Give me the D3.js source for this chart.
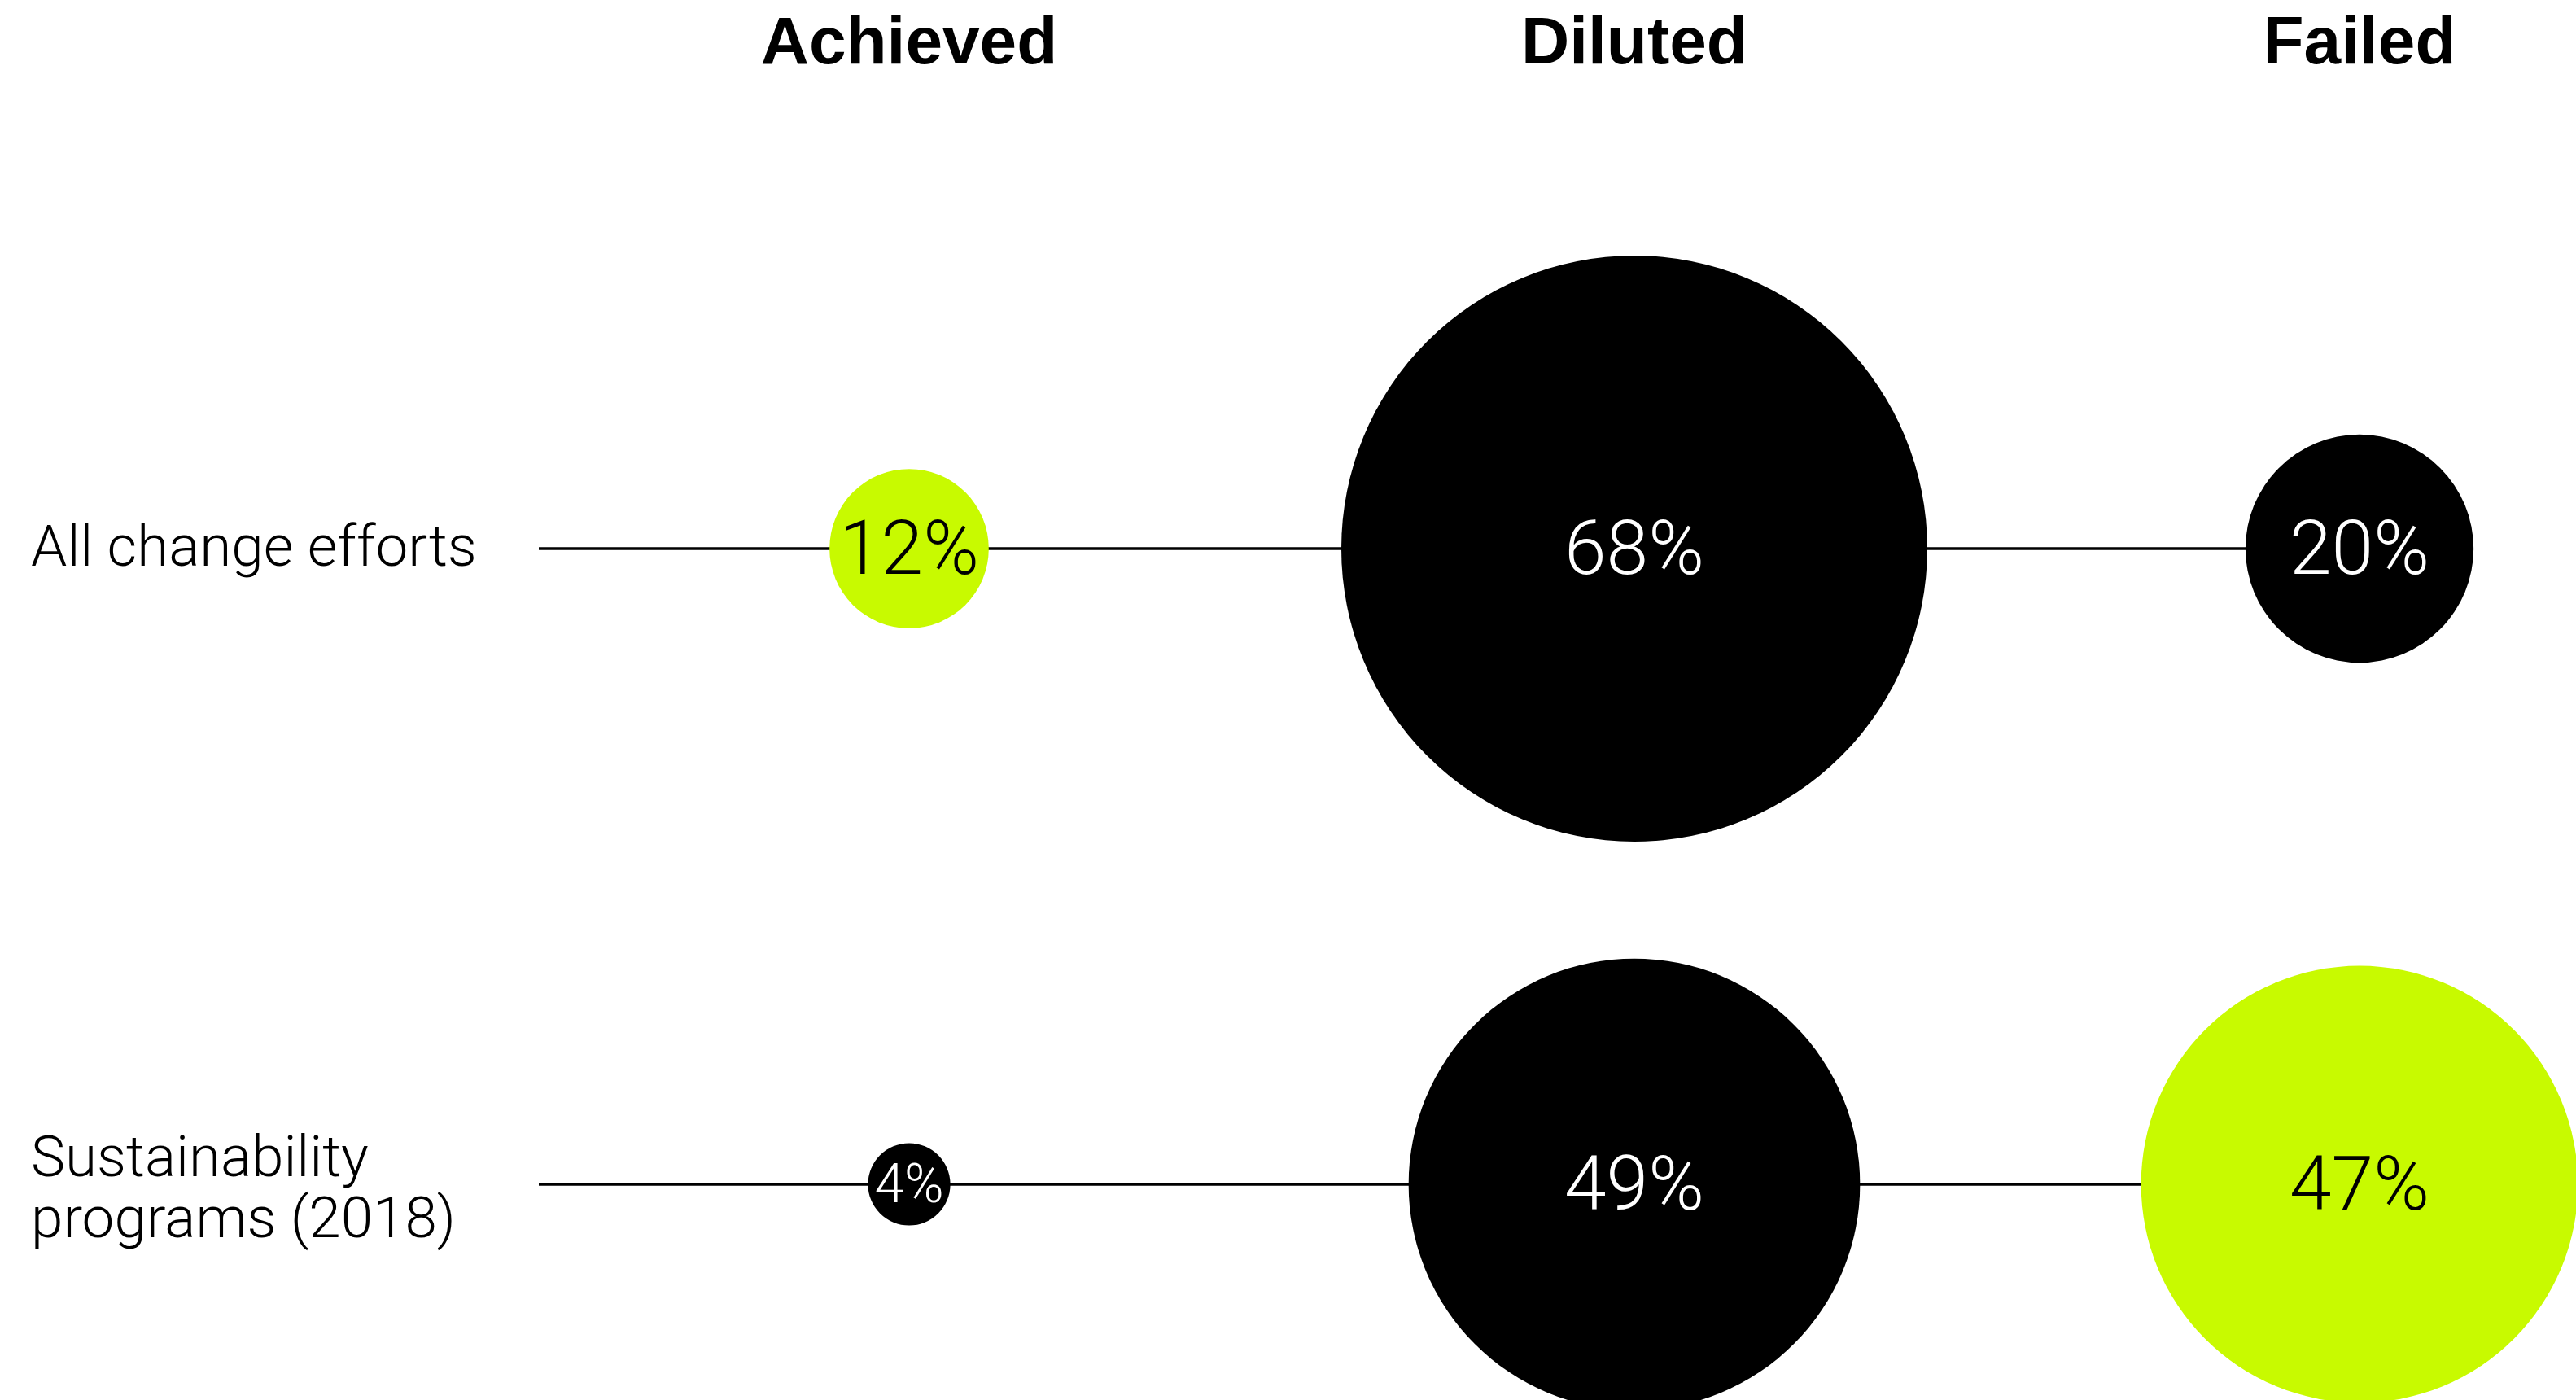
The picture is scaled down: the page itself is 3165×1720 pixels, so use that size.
<!DOCTYPE html>
<html>
<head>
<meta charset="utf-8">
<script src="https://cdn.jsdelivr.net/npm/d3@7"></script>
<style>
    body { margin: 0; background: #fff; }
    svg { display: block; }
    .header { font-family: "Liberation Sans", Arial, sans-serif; font-weight: bold; font-size: 82px; }
    .rowlabel { font-family: Roboto, "Liberation Sans", sans-serif; font-weight: 300; font-size: 71px; }
    .pct { font-family: Roboto, "Liberation Sans", sans-serif; font-weight: 300; }
</style>
</head>
<body>
<svg width="3165" height="1720"></svg>
<script>
"use strict";

// outcome categories (columns)
var outcomes = ["Achieved", "Diluted", "Failed"];

// rows, label split into lines
var groups = ["All change efforts", "Sustainability programs (2018)"];
var groupLines = [["All change efforts"], ["Sustainability", "programs (2018)"]];

// share of efforts, %
var allChange = [12, 68, 20];
var sustainability = [4, 49, 47];

// highlighted outcome per row
var highlighted = ["Achieved", "Failed"];

window.onload = renderMyChart;

function renderMyChart() {
    var svg = d3.select("svg");

    var x = d3.scalePoint().domain(outcomes).range([1117, 2899]),
        y = d3.scalePoint().domain(groups).range([674, 1455]),
        r = d3.scalePow().exponent(0.85).domain([0, 68]).range([20, 360]);

    var lime = "#c8fa00";
    var values = [allChange, sustainability];

    var data = [];
    groups.forEach(function (g, i) {
        outcomes.forEach(function (o, j) {
            data.push({ group: g, outcome: o, value: values[i][j], hi: highlighted[i] === o });
        });
    });

    // column headers
    svg.selectAll(".header")
        .data(outcomes)
        .enter().append("text")
        .attr("class", "header")
        .attr("x", function (d) { return x(d); })
        .attr("y", 78)
        .attr("text-anchor", "middle")
        .text(function (d) { return d; });

    // row labels
    var labels = svg.selectAll(".rowlabel")
        .data(groups)
        .enter().append("text")
        .attr("class", "rowlabel")
        .attr("x", 38);

    labels.each(function (d, i) {
        var lines = groupLines[i],
            n = lines.length,
            base = y(d) + 21 - (n - 1) * 31;
        d3.select(this).selectAll("tspan")
            .data(lines)
            .enter().append("tspan")
            .attr("x", 38)
            .attr("y", function (l, k) { return base + k * 75; })
            .text(function (l) { return l; });
    });

    // connecting lines
    svg.selectAll(".rowline")
        .data(groups)
        .enter().append("line")
        .attr("class", "rowline")
        .attr("x1", 662)
        .attr("x2", x(outcomes[outcomes.length - 1]))
        .attr("y1", function (d) { return y(d); })
        .attr("y2", function (d) { return y(d); })
        .attr("stroke", "#000")
        .attr("stroke-width", 3.5);

    // bubbles
    var cell = svg.selectAll(".cell")
        .data(data)
        .enter().append("g")
        .attr("class", "cell")
        .attr("transform", function (d) { return "translate(" + x(d.outcome) + "," + y(d.group) + ")"; });

    cell.append("circle")
        .attr("r", function (d) { return r(d.value); })
        .attr("fill", function (d) { return d.hi ? lime : "#000"; });

    cell.append("text")
        .attr("class", "pct")
        .attr("text-anchor", "middle")
        .style("font-size", function (d) { return Math.min(93, r(d.value) * 1.3) + "px"; })
        .attr("dy", "0.33em")
        .attr("fill", function (d) { return d.hi ? "#000" : "#fff"; })
        .text(function (d) { return d.value + "%"; });
}
</script>
</body>
</html>
